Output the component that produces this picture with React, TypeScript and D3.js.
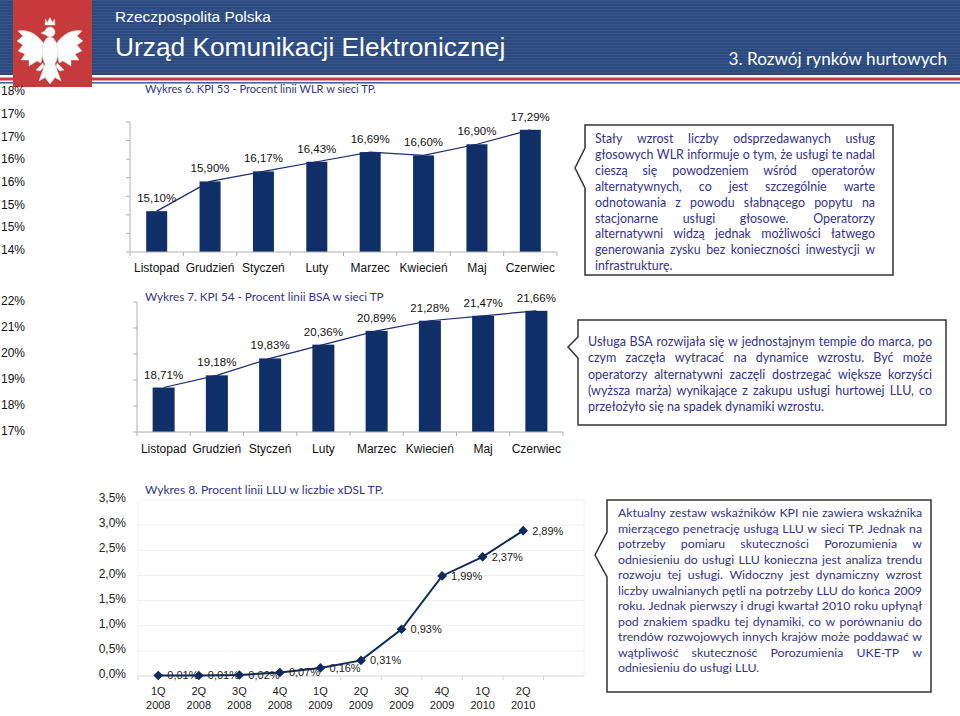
import React from 'react';
import * as d3 from 'd3';

// ---------- DATA ----------
const months = ['Listopad', 'Grudzień', 'Styczeń', 'Luty', 'Marzec', 'Kwiecień', 'Maj', 'Czerwiec'];
const wlrValues = [15.10, 15.90, 16.17, 16.43, 16.69, 16.60, 16.90, 17.29];
const wlrTicks = [14, 14.5, 15, 15.5, 16, 16.5, 17, 17.5];
const bsaValues = [18.71, 19.18, 19.83, 20.36, 20.89, 21.28, 21.47, 21.66];
const bsaTicks = [17, 18, 19, 20, 21, 22];
const quarters = ['1Q', '2Q', '3Q', '4Q', '1Q', '2Q', '3Q', '4Q', '1Q', '2Q'];
const quarterYears = ['2008', '2008', '2008', '2008', '2009', '2009', '2009', '2009', '2010', '2010'];
const lluValues = [0.01, 0.01, 0.02, 0.07, 0.16, 0.31, 0.93, 1.99, 2.37, 2.89];
const lluTicks = [0, 0.5, 1, 1.5, 2, 2.5, 3, 3.5];

const title1 = 'Wykres 6. KPI 53 - Procent linii WLR w sieci TP.';
const title2 = 'Wykres 7. KPI 54 - Procent linii BSA w sieci TP';
const title3 = 'Wykres 8. Procent linii LLU w liczbie xDSL TP.';

const box1Lines = [
  'Stały wzrost liczby odsprzedawanych usług',
  'głosowych WLR informuje o tym, że usługi te nadal',
  'cieszą się powodzeniem wśród operatorów',
  'alternatywnych, co jest szczególnie warte',
  'odnotowania z powodu słabnącego popytu na',
  'stacjonarne usługi głosowe. Operatorzy',
  'alternatywni widzą jednak możliwości łatwego',
  'generowania zysku bez konieczności inwestycji w',
  'infrastrukturę.',
];
const box2Lines = [
  'Usługa BSA rozwijała się w jednostajnym tempie do marca, po',
  'czym zaczęła wytracać na dynamice wzrostu. Być może',
  'operatorzy alternatywni zaczęli dostrzegać większe korzyści',
  '(wyższa marża) wynikające z zakupu usługi hurtowej LLU, co',
  'przełożyło się na spadek dynamiki wzrostu.',
];
const box3Lines = [
  'Aktualny zestaw wskaźników KPI nie zawiera wskaźnika',
  'mierzącego penetrację usługą LLU w sieci TP. Jednak na',
  'potrzeby pomiaru skuteczności Porozumienia w',
  'odniesieniu do usługi LLU konieczna jest analiza trendu',
  'rozwoju tej usługi. Widoczny jest dynamiczny wzrost',
  'liczby uwalnianych pętli na potrzeby LLU do końca 2009',
  'roku. Jednak pierwszy i drugi kwartał 2010 roku upłynął',
  'pod znakiem spadku tej dynamiki, co w porównaniu do',
  'trendów rozwojowych innych krajów może poddawać w',
  'wątpliwość skuteczność Porozumienia UKE-TP w',
  'odniesieniu do usługi LLU.',
];

// ---------- HELPERS ----------
let ctx: CanvasRenderingContext2D | null = null;
function measure(text: string, font: string): number {
  if (!ctx) ctx = document.createElement('canvas').getContext('2d');
  if (!ctx) return text.length * 6;
  ctx.font = font;
  return ctx.measureText(text).width;
}
const fitSize = (text: string, family: string, w: number) => (w * 100) / measure(text, `100px ${family}`);
const pct2 = (v: number) => v.toFixed(2).replace('.', ',') + '%';

const NAVY = '#0f2f68';
const TXT = '#34348a';
const ARIAL = 'Liberation Sans, Arial, sans-serif';
const CAL = 'Lato';

function BarChart(p: {
  values: number[]; ticks: number[]; tickFmt: (v: number) => string;
  x0: number; x1: number; yDomain: [number, number]; y0: number; y1: number;
  tickRange: [number, number]; tickX: number;
  barW: number; fs: number; lfs: number; catY: number; labelOff: number;
  title: string; titleX: number; titleY: number; titleW: number;
}) {
  const x = d3.scaleBand<string>().domain(months).range([p.x0, p.x1]);
  const y = d3.scaleLinear().domain(p.yDomain).range([p.y0, p.y1]);
  const yt = d3.scaleLinear().domain(p.yDomain).range(p.tickRange);
  const cx = (i: number) => (x(months[i]) as number) + x.bandwidth() / 2;
  const line = d3.line<number>().x((_, i) => cx(i)).y((d) => y(d));
  const bounds = months.map((m) => x(m) as number).concat([p.x1]);
  const tfs = fitSize(p.title, CAL, p.titleW);
  return (
    <g>
      <text x={p.titleX} y={p.titleY} dy="0.35em" fontFamily={CAL} fontSize={tfs} fill={TXT}>{p.title}</text>
      {p.values.map((v, i) => (
        <rect key={i} x={cx(i) - p.barW / 2} y={y(v)} width={p.barW} height={y(p.yDomain[0]) - y(v)} fill={NAVY} />
      ))}
      <path d={line(p.values) || ''} fill="none" stroke="#1c2a70" strokeWidth={1.2} />
      <line x1={p.x0} x2={p.x0} y1={p.y1} y2={p.y0} stroke="#b0b0b0" />
      <line x1={p.x0} x2={p.x1} y1={p.y0} y2={p.y0} stroke="#b0b0b0" />
      {p.ticks.map((t, i) => (
        <g key={i}>
          <line x1={p.x0 - 4} x2={p.x0} y1={y(t)} y2={y(t)} stroke="#b0b0b0" />
          <text x={p.tickX} y={yt(t)} dy="0.35em" textAnchor="end" fontFamily={ARIAL} fontSize={12} fill="#111">{p.tickFmt(t)}</text>
        </g>
      ))}
      {bounds.map((b, i) => (
        <line key={i} x1={b} x2={b} y1={p.y0} y2={p.y0 + 4} stroke="#b0b0b0" />
      ))}
      {months.map((m, i) => (
        <text key={m} x={cx(i)} y={p.catY} dy="0.35em" textAnchor="middle" fontFamily={ARIAL} fontSize={p.fs} fill="#111">{m}</text>
      ))}
      {p.values.map((v, i) => (
        <text key={i} x={cx(i)} y={y(v) - p.labelOff} dy="0.35em" textAnchor="middle" fontFamily={ARIAL} fontSize={p.lfs} fill="#111">{pct2(v)}</text>
      ))}
    </g>
  );
}

function LineChart() {
  const x0 = 138, x1 = 584, yb = 676, yt = 500;
  const slots = quarters.map((q, i) => `${q} ${quarterYears[i]}`).concat(['']);
  const x = d3.scaleBand<string>().domain(slots).range([x0, x1]);
  const y = d3.scaleLinear().domain([0, 3.5]).range([yb, yt]);
  const cx = (i: number) => (x(slots[i]) as number) + x.bandwidth() / 2;
  const line = d3.line<number>().x((_, i) => cx(i)).y((d) => y(d));
  const tfs = fitSize(title3, CAL, 240);
  const diamond = d3.symbol().type(d3.symbolDiamond2).size(60)();
  return (
    <g>
      <text x={145} y={490} dy="0.35em" fontFamily={CAL} fontSize={tfs} fill={TXT}>{title3}</text>
      {lluTicks.map((t, i) => (
        <g key={i}>
          <line x1={x0} x2={x1} y1={y(t)} y2={y(t)} stroke={t === 0 ? '#d6d6d6' : '#f0f0f0'} />
          <text x={126} y={y(t) - 2} dy="0.35em" textAnchor="end" fontFamily={ARIAL} fontSize={12} fill="#222">{t.toFixed(1).replace('.', ',') + '%'}</text>
        </g>
      ))}
      <line x1={x0} x2={x0} y1={yt} y2={yb} stroke="#f0f0f0" />
      <line x1={x1} x2={x1} y1={yt} y2={yb} stroke="#f0f0f0" />
      {slots.map((s, i) => (
        <line key={i} x1={x(s) as number} x2={x(s) as number} y1={yb} y2={yb + 4} stroke="#d6d6d6" />
      ))}
      <path d={line(lluValues) || ''} fill="none" stroke="#0d2a5c" strokeWidth={2} />
      {lluValues.map((v, i) => (
        <g key={i}>
          <path d={diamond || ''} transform={`translate(${cx(i)},${y(v)})`} fill="#0d2a5c" />
          <text x={cx(i) + 9} y={y(v)} dy="0.35em" fontFamily={ARIAL} fontSize={11} fill="#222">{pct2(v)}</text>
        </g>
      ))}
      {quarters.map((q, i) => (
        <g key={i}>
          <text x={cx(i)} y={691} dy="0.35em" textAnchor="middle" fontFamily={ARIAL} fontSize={11} fill="#222">{q}</text>
          <text x={cx(i)} y={705} dy="0.35em" textAnchor="middle" fontFamily={ARIAL} fontSize={11} fill="#222">{quarterYears[i]}</text>
        </g>
      ))}
    </g>
  );
}

function TextBox(p: {
  lines: string[]; x: number; y: number; w: number; h: number;
  tx: number; tw: number; ty: number; lh: number; ptr: [number, number, number, number];
}) {
  const [pTop, tipX, tipY, pBot] = p.ptr;
  const fam = CAL;
  const maxW = Math.max(...p.lines.slice(0, -1).map((l) => measure(l, `100px ${fam}`)));
  const fs = Math.min(12.5, (p.tw * 100 * 0.995) / maxW);
  const font = `${fs}px ${fam}`;
  const d = `M${p.x},${p.y} H${p.x + p.w} V${p.y + p.h} H${p.x} V${pBot} L${tipX},${tipY} L${p.x},${pTop} Z`;
  return (
    <g>
      <path d={d} fill="#fff" stroke="#333" strokeWidth={1.5} />
      {p.lines.map((l, li) => {
        const by = p.ty + li * p.lh;
        if (li === p.lines.length - 1) {
          return <text key={li} x={p.tx} y={by} fontFamily={fam} fontSize={fs} fill={TXT}>{l}</text>;
        }
        const words = l.split(' ');
        const ws = words.map((w) => measure(w, font));
        const gap = (p.tw - ws.reduce((a, b) => a + b, 0)) / Math.max(1, words.length - 1);
        let cur = p.tx;
        return (
          <g key={li}>
            {words.map((w, wi) => {
              const xx = cur;
              cur += ws[wi] + gap;
              return <text key={wi} x={xx} y={by} fontFamily={fam} fontSize={fs} fill={TXT}>{w}</text>;
            })}
          </g>
        );
      })}
    </g>
  );
}

function Eagle() {
  const lw = 'M44,44 C37,34 28,29 18,31 L23,36 L17,41 L23,45 L18,51 L25,54 L21,60 L29,60 L29,66 L37,61 L41,63 Z';
  const rw = 'M56,44 C63,34 72,29 82,31 L77,36 L83,41 L77,45 L82,51 L75,54 L79,60 L71,60 L71,66 L63,61 L59,63 Z';
  return (
    <g fill="#fff" stroke="#d9d9d9" strokeWidth={0.5}>
      <path d={lw} />
      <path d={rw} />
      <ellipse cx={50} cy={52} rx={8} ry={15} />
      <circle cx={50} cy={32} r={5} />
      <path d="M46,30.5 L41,33 L46,35 Z" />
      <path d="M45,25 L45.5,19 L47.5,22.5 L50,17.5 L52.5,22.5 L54.5,19 L55,25 Z" />
      <path d="M45,64 L39,81 L45,77.5 L50,84 L55,77.5 L61,81 L55,64 Z" />
      <path d="M43,63 L36,70 L40,71 L44,67 Z" />
      <path d="M57,63 L64,70 L60,71 L56,67 Z" />
    </g>
  );
}

export default function App() {
  const hfs = fitSize('3. Rozwój rynków hurtowych', CAL, 219);
  return (
    <svg width={960} height={716} style={{ position: 'absolute', left: 0, top: 0, display: 'block', background: '#fff' }}>
      <defs>
        <pattern id="hlines" width={4} height={3} patternUnits="userSpaceOnUse">
          <rect width={4} height={1} fill="#ffffff" opacity={0.06} />
        </pattern>
      </defs>
      {/* header */}
      <rect x={0} y={0} width={960} height={75} fill="#2a4a80" />
      <rect x={0} y={0} width={960} height={75} fill="url(#hlines)" />
      <rect x={0} y={77.5} width={960} height={3} fill="#c23b3d" />
      <rect x={0} y={82} width={960} height={1.6} fill="#46659a" />
      <rect x={13} y={0} width={79} height={87} fill="#c63a3c" />
      <Eagle />
      <text x={115} y={22} fontFamily={ARIAL} fontSize={15.5} fill="#fff">Rzeczpospolita Polska</text>
      <text x={115} y={56} fontFamily={ARIAL} fontSize={26.3} fill="#fff">Urząd Komunikacji Elektronicznej</text>
      <text x={947} y={65} textAnchor="end" fontFamily={CAL} fontSize={hfs} fill="#fff">3. Rozwój rynków hurtowych</text>

      <BarChart values={wlrValues} ticks={wlrTicks} tickFmt={(v) => Math.round(v) + '%'}
        x0={130} x1={557} yDomain={[14, 17.5]} y0={252} y1={122} tickRange={[250, 91]} tickX={25}
        barW={21} fs={12} lfs={11.5} catY={268}
        labelOff={13} title={title1} titleX={145} titleY={89} titleW={232} />
      <BarChart values={bsaValues} ticks={bsaTicks} tickFmt={(v) => Math.round(v) + '%'}
        x0={137} x1={563} yDomain={[17, 22]} y0={432} y1={302} tickRange={[431, 301]} tickX={25}
        barW={22} fs={12} lfs={11.5} catY={449}
        labelOff={13} title={title2} titleX={145} titleY={297} titleW={240} />
      <LineChart />

      <TextBox lines={box1Lines} x={585} y={125} w={308} h={150} tx={595} tw={280} ty={143} lh={15.9} ptr={[148, 575, 168, 188]} />
      <TextBox lines={box2Lines} x={578} y={320} w={368} h={105} tx={588} tw={344} ty={346} lh={16.25} ptr={[337, 568, 347, 358]} />
      <TextBox lines={box3Lines} x={607} y={500} w={324} h={192} tx={618} tw={304} ty={517} lh={15.5} ptr={[532, 595, 555, 577]} />
    </svg>
  );
}
